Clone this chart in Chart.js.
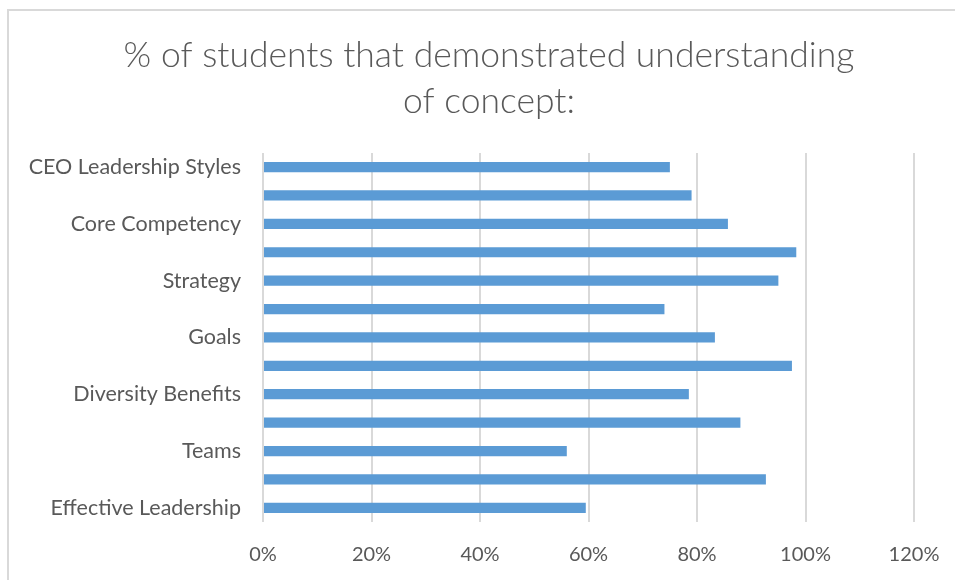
<!DOCTYPE html>
<html>
<head>
<meta charset="utf-8">
<script src="https://cdn.jsdelivr.net/npm/chart.js@4.4.0/dist/chart.umd.min.js"></script>
<style>
  html, body { margin: 0; padding: 0; background: #ffffff; }
  #wrap { width: 955px; height: 580px; position: relative; }
</style>
</head>
<body>
<div id="wrap"><canvas id="c" width="955" height="580"></canvas></div>
<script>
// Categories top to bottom (unlabelled rows were skipped by the original axis)
const categories = [
  "CEO Leadership Styles", "", "Core Competency", "", "Strategy", "",
  "Goals", "", "Diversity Benefits", "", "Teams", "", "Effective Leadership"
];
// Share of students (fraction) per row, top to bottom
const values = [0.75, 0.79, 0.857, 0.983, 0.95, 0.74, 0.833, 0.975, 0.785, 0.88, 0.56, 0.927, 0.595];
const titleLines = ["% of students that demonstrated understanding", "of concept:"];
const xTicks = [0, 0.2, 0.4, 0.6, 0.8, 1.0, 1.2];

const FONT = "Lato, 'Open Sans', sans-serif";
const TEXT = "#595959";

const borderPlugin = {
  id: 'frame',
  beforeDraw(chart) {
    const ctx = chart.ctx;
    ctx.save();
    ctx.fillStyle = '#ffffff';
    ctx.fillRect(0, 0, chart.width, chart.height);
    ctx.strokeStyle = '#d9d9d9';
    ctx.lineWidth = 2;
    ctx.beginPath();
    ctx.moveTo(8, chart.height + 5);
    ctx.lineTo(8, 10);
    ctx.lineTo(chart.width + 5, 10);
    ctx.stroke();
    ctx.restore();
  },
  afterLayout(chart) {
    // centre the title over the framed chart rather than the padded box
    if (chart.titleBlock) {
      chart.titleBlock.left += 24;
      chart.titleBlock.right += 24;
    }
  }
};

new Chart(document.getElementById('c'), {
  type: 'bar',
  data: {
    labels: categories,
    datasets: [{
      data: values,
      backgroundColor: '#5b9bd5',
      borderColor: '#5b9bd5',
      borderWidth: 0,
      barPercentage: 0.36,
      categoryPercentage: 1.0
    }]
  },
  options: {
    indexAxis: 'y',
    responsive: false,
    animation: false,
    devicePixelRatio: 1,
    layout: { padding: { left: 16, right: 41, top: 33, bottom: 0 } },
    plugins: {
      legend: { display: false },
      tooltip: { enabled: false },
      title: {
        display: true,
        text: titleLines,
        color: TEXT,
        font: { family: FONT, size: 35.5, weight: '300', lineHeight: 1.28 },
        padding: { top: 0, bottom: 29 }
      }
    },
    scales: {
      x: {
        min: 0,
        max: 1.2,
        afterBuildTicks(scale) { scale.ticks = xTicks.map(v => ({ value: v })); },
        afterFit(scale) { scale.height = 58; scale.paddingLeft = 0; scale.paddingRight = 0; },
        ticks: {
          color: TEXT,
          font: { family: FONT, size: 20 },
          padding: 21,
          callback: (v) => Math.round(v * 100) + '%'
        },
        grid: { color: '#d9d9d9', lineWidth: 2, drawTicks: false },
        border: { display: false }
      },
      y: {
        afterFit(scale) { scale.width = 247; },
        ticks: {
          autoSkip: false,
          color: TEXT,
          font: { family: FONT, size: 21.5 },
          padding: 22
        },
        grid: { display: false, drawTicks: false },
        border: { display: false }
      }
    }
  },
  plugins: [borderPlugin]
});
</script>
</body>
</html>
